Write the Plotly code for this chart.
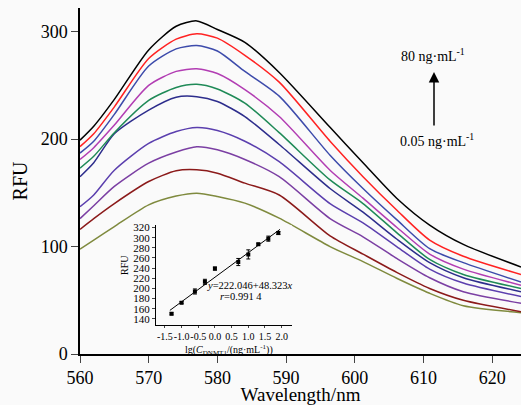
import plotly.graph_objects as go

# ---------------- data ----------------
wavelength = [560, 562, 565, 570, 574, 577, 580, 584, 589, 596.4, 601.2, 606.1, 610.9, 615.8, 624.2]

rfu_black   = [199, 212, 237, 283, 305, 310, 302, 290, 262, 211, 178, 145, 120, 102, 81]
rfu_red     = [193, 205, 230, 275, 293, 298, 294, 278, 253, 198, 165, 134, 106, 91, 74]
rfu_blue    = [187, 198, 223, 268, 284, 287, 282, 263, 240, 185, 154, 125, 98, 85, 67]
rfu_magenta = [181, 192, 213, 250, 263, 265.5, 261, 246, 221, 171, 145, 118, 93, 79, 64]
rfu_green   = [173, 184, 206, 236, 248, 251, 246.6, 233.5, 206, 162, 140, 113, 88, 74, 61]
rfu_navy    = [165, 178, 205, 227, 239, 239.5, 235, 221, 195, 154, 132, 107, 85, 71, 58]
rfu_purple  = [137, 148, 171, 196, 207, 210.8, 208, 198, 179, 140, 122, 100, 79, 66, 53.4]
rfu_violet  = [126, 138, 156, 177.6, 188, 192.9, 190, 181, 165, 126, 109, 89, 71, 58, 47.2]
rfu_darkred = [116, 126, 140, 160.5, 170.5, 171.4, 168.3, 159, 148, 110, 93, 76, 61, 50, 39.4]
rfu_olive   = [97.5, 106, 118.6, 138.8, 147, 149.7, 146.6, 140.4, 126.4, 100, 86, 70.5, 56.5, 45, 38.5]

series = [
    (rfu_olive,   "#7f8a3e"),
    (rfu_darkred, "#8b1a1a"),
    (rfu_violet,  "#7b3fa3"),
    (rfu_purple,  "#5b3fae"),
    (rfu_navy,    "#2d2d8c"),
    (rfu_green,   "#1f8a57"),
    (rfu_magenta, "#b23db3"),
    (rfu_blue,    "#3d4bab"),
    (rfu_red,     "#ff2222"),
    (rfu_black,   "#000000"),
]

# inset calibration data
lg_conc   = [-1.3, -1.0, -0.6, -0.3, 0.0, 0.7, 1.0, 1.3, 1.6, 1.9]
inset_rfu = [150, 172, 194, 213, 239, 252, 267, 287, 298, 309]
inset_err = [2, 2, 5, 5, 3, 7, 9, 2, 5, 3]
fit_x     = [-1.35, 1.95]
fit_a, fit_b = 222.046, 48.323

main_xticks = [560, 570, 580, 590, 600, 610, 620]
main_yticks = [0, 100, 200, 300]
inset_xticks = [-1.5, -1.0, -0.5, 0.0, 0.5, 1.0, 1.5, 2.0]
inset_xlabels = ["-1.5", "-1.0", "-0.5", "0.0", "0.5", "1.0", "1.5", "2.0"]
inset_yticks = list(range(140, 321, 20))

FONT = "Liberation Serif"

W, H = 521, 405
ML, MR, MT, MB = 80, 0, 8, 51
PW, PH = W - ML - MR, H - MT - MB


def px_x(px):
    return (px - ML) / PW


def px_y(py):
    return (H - MB - py) / PH


fig = go.Figure()
for ys, col in series:
    fig.add_trace(go.Scatter(x=wavelength, y=ys, mode="lines",
                             line=dict(color=col, width=1.5, shape="spline", smoothing=0.7),
                             hoverinfo="skip", showlegend=False))

fig.add_trace(go.Scatter(x=lg_conc, y=inset_rfu, mode="markers",
                         marker=dict(symbol="square", size=4, color="black"),
                         error_y=dict(type="data", array=inset_err, color="black", thickness=1, width=2),
                         xaxis="x2", yaxis="y2", showlegend=False, hoverinfo="skip"))
fig.add_trace(go.Scatter(x=fit_x, y=[fit_a + fit_b * v for v in fit_x], mode="lines",
                         line=dict(color="black", width=1),
                         xaxis="x2", yaxis="y2", showlegend=False, hoverinfo="skip"))

fig.update_layout(
    width=W, height=H,
    margin=dict(l=ML, r=MR, t=MT, b=MB),
    paper_bgcolor="#fafafa", plot_bgcolor="#fafafa",
    font=dict(family=FONT, color="black"),
    xaxis=dict(range=[560, 624.2], tickvals=main_xticks, ticks="outside", ticklen=7,
               showline=True, linecolor="black", linewidth=1.5, showgrid=False, zeroline=False,
               tickfont=dict(size=18), title=dict(text="Wavelength/nm", font=dict(size=19), standoff=3)),
    yaxis=dict(range=[0, 322], tickvals=main_yticks, ticks="outside", ticklen=7,
               showline=True, linecolor="black", linewidth=1.5, showgrid=False, zeroline=False,
               tickfont=dict(size=18), title=dict(text="RFU", font=dict(size=20), standoff=8)),
    xaxis2=dict(domain=[0.172, 0.480], anchor="y2", range=[-1.77, 2.3], tickvals=inset_xticks,
                ticktext=inset_xlabels, tickangle=0,
                ticks="outside", ticklen=2, showline=True, linecolor="black", linewidth=1,
                showgrid=False, zeroline=False, tickfont=dict(size=10)),
    yaxis2=dict(domain=[0.0838, 0.373], anchor="x2", range=[128, 325], tickvals=inset_yticks,
                ticks="outside", ticklen=3, showline=True, linecolor="black", linewidth=1,
                showgrid=False, zeroline=False, tickfont=dict(size=11)),
)

# inset axis titles
fig.add_annotation(x=px_x(229), y=px_y(350), xref="paper", yref="paper", showarrow=False,
                   xanchor="center", yanchor="middle",
                   text="lg(<i>C</i><sub>DNMT1</sub>/(ng·mL<sup>-1</sup>))", font=dict(size=10))
fig.add_annotation(x=px_x(124), y=px_y(265), xref="paper", yref="paper", showarrow=False,
                   xanchor="center", yanchor="middle", textangle=-90,
                   text="RFU", font=dict(size=10))

fig.add_annotation(x=1.05, y=205, xref="x2", yref="y2", showarrow=False,
                   xanchor="center", yanchor="middle",
                   text="<i>y</i>=222.046+48.323<i>x</i>", font=dict(size=10.5))
fig.add_annotation(x=0.78, y=185, xref="x2", yref="y2", showarrow=False,
                   xanchor="center", yanchor="middle",
                   text="<i>r</i>=0.991 4", font=dict(size=10.5))
fig.add_annotation(x=px_x(433), y=px_y(55), xref="paper", yref="paper", showarrow=False,
                   xanchor="center", yanchor="middle",
                   text="80 ng·mL<sup>-1</sup>", font=dict(size=14))
fig.add_annotation(x=px_x(437), y=px_y(140), xref="paper", yref="paper", showarrow=False,
                   xanchor="center", yanchor="middle",
                   text="0.05 ng·mL<sup>-1</sup>", font=dict(size=14))
# arrow
fig.add_annotation(x=px_x(434), y=px_y(72), xref="paper", yref="paper",
                   ax=0, ay=55, axref="pixel", ayref="pixel",
                   showarrow=True, arrowhead=2, arrowsize=1.4, arrowwidth=1.5, arrowcolor="black", text="")

fig.write_html("out.html")
